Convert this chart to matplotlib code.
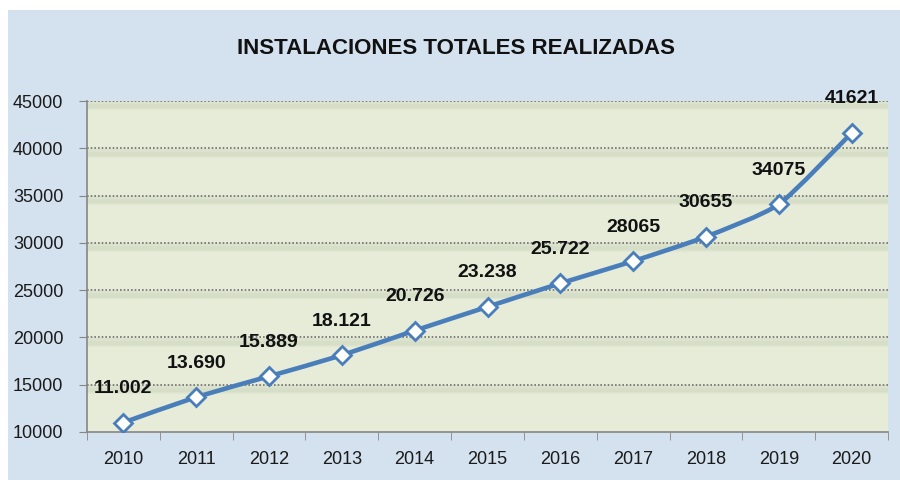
import matplotlib

matplotlib.use("Agg")
import matplotlib.pyplot as plt
import matplotlib.transforms as mtransforms
import numpy as np
from matplotlib.patches import PathPatch, Rectangle
from matplotlib.path import Path

# values
years = ["2010", "2011", "2012", "2013", "2014", "2015", "2016", "2017", "2018", "2019", "2020"]
installs = [11002, 13690, 15889, 18121, 20726, 23238, 25722, 28065, 30655, 34075, 41621]
point_labels = ["11.002", "13.690", "15.889", "18.121", "20.726", "23.238", "25.722",
                "28065", "30655", "34075", "41621"]
y_ticks = [10000, 15000, 20000, 25000, 30000, 35000, 40000, 45000]
title = "INSTALACIONES TOTALES REALIZADAS"

FONT = ["Liberation Sans", "DejaVu Sans"]
BLUE = "#4a7ebb"
CHART_BG = "#d4e1ee"
PLOT_BG = "#e7ecd9"
SHADOW = "#cdd6bc"


def smooth_path(xs, ys, tension=0.1):
    # cubic bezier segments through the points, like a spreadsheet "smoothed line"
    pts = np.column_stack([xs, ys]).astype(float)
    verts = [pts[0]]
    codes = [Path.MOVETO]
    n = len(pts)
    for i in range(n - 1):
        p0 = pts[i - 1] if i > 0 else pts[i]
        p1 = pts[i]
        p2 = pts[i + 1]
        p3 = pts[i + 2] if i + 2 < n else pts[i + 1]
        c1 = p1 + (p2 - p0) * tension
        c2 = p2 - (p3 - p1) * tension
        verts += [c1, c2, p2]
        codes += [Path.CURVE4] * 3
    return Path(verts, codes)


fig = plt.figure(figsize=(9, 4.8), dpi=100, facecolor="white")
fig.patches.append(Rectangle((8 / 900, 0), 1 - 8 / 900, 1 - 10 / 480, transform=fig.transFigure,
                             facecolor=CHART_BG, edgecolor="none", zorder=-10))

ax = fig.add_axes([87 / 900, 48 / 480, (888 - 87) / 900, (432 - 101) / 480])
ax.set_facecolor(PLOT_BG)

x = np.arange(len(years))
ax.set_xlim(-0.5, len(years) - 0.5)
ax.set_ylim(y_ticks[0], y_ticks[-1])

# soft shadow under each gridline
for yv in y_ticks[1:]:
    for off, lw, a in [(2.5, 5, 0.4), (4.5, 4, 0.35)]:
        tr = ax.get_yaxis_transform() + mtransforms.ScaledTranslation(0, -off / 72, fig.dpi_scale_trans)
        ax.plot([0, 1], [yv, yv], color=SHADOW, lw=lw, alpha=a, transform=tr, zorder=0.5,
                solid_capstyle="butt")
    ax.axhline(yv, color="#6f6f6f", lw=1.2, ls=(0, (1, 1.2)), zorder=1)

ax.add_patch(PathPatch(smooth_path(x, installs), facecolor="none", edgecolor=BLUE, lw=3.3,
                       capstyle="round", joinstyle="round", zorder=3))
ax.plot(x, installs, ls="none", marker="D", ms=9.5, mfc="white", mec=BLUE, mew=2, zorder=4)

for xi, yi, lab in zip(x, installs, point_labels):
    ax.annotate(lab, (xi, yi), xytext=(0, 24.5), textcoords="offset points", ha="center", va="center",
                fontsize=14, fontweight="bold", family=FONT, color="#111111", zorder=5)

ax.set_xticks(x)
ax.set_xticklabels(years)
ax.set_xticks(np.arange(len(years) + 1) - 0.5, minor=True)
ax.tick_params(axis="x", which="major", length=0, pad=14)
ax.tick_params(axis="x", which="minor", length=6, color="#868686", direction="out")
ax.set_yticks(y_ticks)
ax.set_yticklabels([str(v) for v in y_ticks])
ax.tick_params(axis="y", length=6, color="#868686", pad=11)
for lab in ax.get_xticklabels() + ax.get_yticklabels():
    lab.set_family(FONT)
    lab.set_fontsize(13)
    lab.set_color("#1a1a1a")

for side in ["top", "right"]:
    ax.spines[side].set_visible(False)
for side in ["left", "bottom"]:
    ax.spines[side].set_color("#868686")
    ax.spines[side].set_linewidth(1.2)

fig.text(456 / 900, 1 - 49 / 480, title, ha="center", va="center", fontsize=16, fontweight="bold",
         family=FONT, color="#111111")

fig.savefig("out.png", dpi=100, facecolor=fig.get_facecolor())
